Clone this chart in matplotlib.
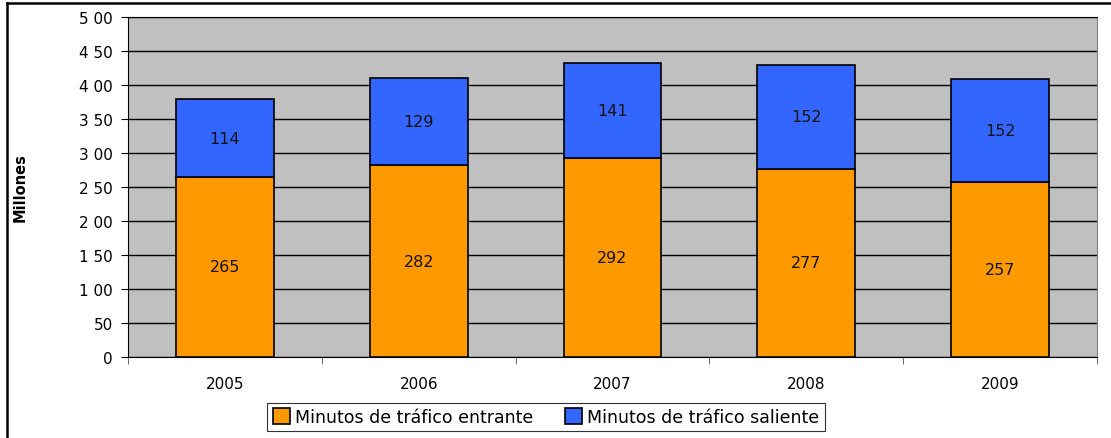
import matplotlib.pyplot as plt
import numpy as np
from matplotlib.lines import Line2D

years = ['2005', '2006', '2007', '2008', '2009']
entrante = [265, 282, 292, 277, 257]
saliente = [114, 129, 141, 152, 152]
ytick_vals = [0, 50, 100, 150, 200, 250, 300, 350, 400, 450, 500]
ytick_labels = ['0', '50', '1 00', '1 50', '2 00', '2 50', '3 00', '3 50', '4 00', '4 50', '5 00']

orange = '#FF9900'
blue = '#3366FF'

fig = plt.figure(figsize=(11.11, 4.39), dpi=100)
ax = fig.add_axes([128 / 1111, 1 - 358 / 439, (1097 - 128) / 1111, (358 - 18) / 439])
ax.set_facecolor('#C0C0C0')

x = np.arange(len(years))
w = 0.505
ax.bar(x, entrante, w, color=orange, edgecolor='black', linewidth=1.2, zorder=3,
       label='Minutos de tráfico entrante')
ax.bar(x, saliente, w, bottom=entrante, color=blue, edgecolor='black', linewidth=1.2,
       zorder=3, label='Minutos de tráfico saliente')

for i in range(len(years)):
    ax.text(x[i], entrante[i] / 2, str(entrante[i]), ha='center', va='center',
            fontsize=11.5, zorder=4, color='#111111')
    ax.text(x[i], entrante[i] + saliente[i] / 2, str(saliente[i]), ha='center', va='center',
            fontsize=11.5, zorder=4, color='#111111')

ax.set_xlim(-0.5, len(years) - 0.5)
ax.set_ylim(0, 500)
ax.set_yticks(ytick_vals)
ax.set_yticklabels(ytick_labels, fontsize=11)
ax.yaxis.grid(True, color='black', linewidth=1, zorder=1)
ax.set_axisbelow(True)

ax.set_xticks(x)
ax.set_xticklabels(years, fontsize=11)
ax.tick_params(axis='x', length=0, pad=14)
ax.set_xticks(np.arange(-0.5, len(years)), minor=True)
ax.tick_params(axis='x', which='minor', length=5, color='#555555')
ax.tick_params(axis='y', length=5, pad=6)

for s in ['left', 'bottom', 'top']:
    ax.spines[s].set_color('black')
ax.spines['right'].set_color('#808080')

ax.set_ylabel('Millones', fontsize=10.5, fontweight='bold')
ax.yaxis.set_label_coords((28 - 128) / 969, 0.5)

leg = ax.legend(loc='center', bbox_to_anchor=(546 / 1111, 1 - 418 / 439),
                bbox_transform=fig.transFigure, ncol=2, fontsize=12.5, frameon=True,
                fancybox=False, edgecolor='black', handlelength=1.0, handleheight=1.0,
                handletextpad=0.3, columnspacing=1.8, borderpad=0.3, borderaxespad=0)
leg.get_frame().set_linewidth(0.8)

fig.add_artist(Line2D([7 / 1111, 7 / 1111], [0, 1 - 4 / 439], transform=fig.transFigure,
                      color='black', linewidth=1.8))
fig.add_artist(Line2D([7 / 1111, 1], [1 - 4 / 439, 1 - 4 / 439], transform=fig.transFigure,
                      color='black', linewidth=1.8))

fig.savefig('out.png', dpi=100)
